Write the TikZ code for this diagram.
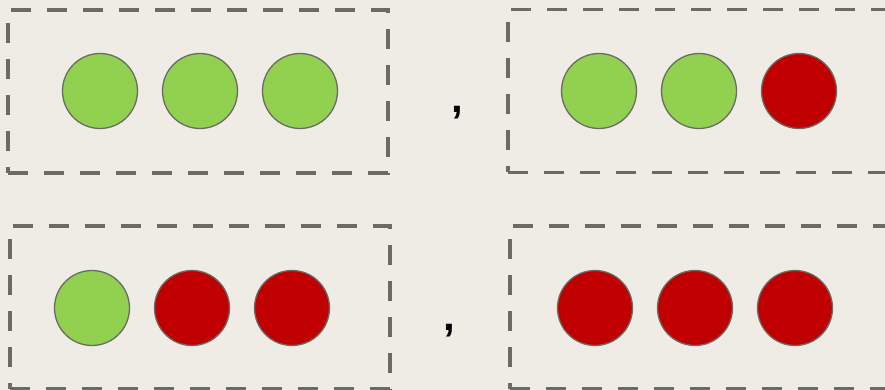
\documentclass[tikz,border=0pt]{standalone}
\usepackage{fontspec}
\setmainfont{Liberation Sans}
\definecolor{bg}{HTML}{EEECE5}
\definecolor{ballgreen}{HTML}{92D050}
\definecolor{ballred}{HTML}{C00000}
\definecolor{edgegray}{HTML}{6B6B65}
\begin{document}
\begin{tikzpicture}[x=1pt, y=-1pt,
    box/.style={draw=edgegray, line width=3.2pt, dash pattern=on 20pt off 16pt,
      minimum width=380pt, minimum height=163pt, inner sep=0pt},
    ball/.style={circle, draw=edgegray, line width=1.3pt, minimum size=75pt, inner sep=0pt},
    sep/.style={font=\fontsize{42}{42}\selectfont\bfseries, inner sep=0pt}]
  \fill[bg] (0,0) rectangle (885,390);
  \useasboundingbox (0,0) rectangle (885,390);

  % top row
  \node[box] (boxA) at (198, 91.5) {};
  \node[ball, fill=ballgreen] (a1) at (100, 91) {};
  \node[ball, fill=ballgreen] (a2) at (200, 91) {};
  \node[ball, fill=ballgreen] (a3) at (300, 91) {};
  \node[sep] (commaA) at (457, 113) {,};
  \node[box] (boxB) at (698, 91) {};
  \node[ball, fill=ballgreen] (b1) at (599, 91) {};
  \node[ball, fill=ballgreen] (b2) at (699, 91) {};
  \node[ball, fill=ballred] (b3) at (799, 91) {};

  % bottom row
  \node[box] (boxC) at (200, 307.5) {};
  \node[ball, fill=ballgreen] (c1) at (92, 308) {};
  \node[ball, fill=ballred] (c2) at (192, 308) {};
  \node[ball, fill=ballred] (c3) at (292, 308) {};
  \node[sep] (commaC) at (449, 331) {,};
  \node[box] (boxD) at (700, 307.5) {};
  \node[ball, fill=ballred] (d1) at (595, 308) {};
  \node[ball, fill=ballred] (d2) at (695, 308) {};
  \node[ball, fill=ballred] (d3) at (795, 308) {};
\end{tikzpicture}
\end{document}
